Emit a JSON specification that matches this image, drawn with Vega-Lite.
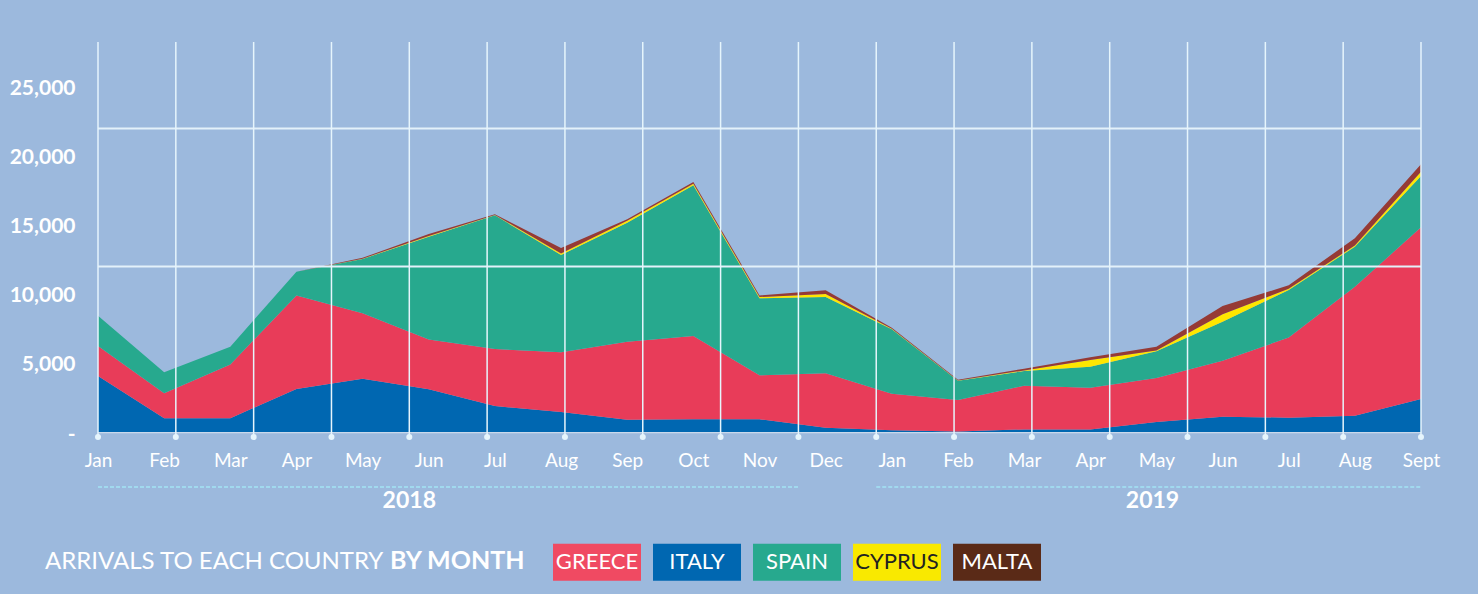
{
  "$schema": "https://vega.github.io/schema/vega-lite/v6.json",
  "width": 1323,
  "height": 390,
  "autosize": {"type": "none"},
  "padding": {"left": 98, "top": 42, "right": 57, "bottom": 162},
  "background": "#9cb9dd",
  "config": {"view": {"stroke": null}, "font": "Lato"},
  "title": {
    "text": "ARRIVALS TO EACH COUNTRY",
    "orient": "bottom", "anchor": "start", "frame": "group",
    "dx": -53, "offset": -31,
    "fontSize": 24, "fontWeight": "normal", "color": "#ffffff", "font": "Lato"
  },
  "datasets": {
    "arrivals": [
      {"month": "Jan 2018", "country": "Italy", "value": 4060}, {"month": "Jan 2018", "country": "Greece", "value": 2170}, {"month": "Jan 2018", "country": "Spain", "value": 2200}, {"month": "Jan 2018", "country": "Cyprus", "value": 0}, {"month": "Jan 2018", "country": "Malta", "value": 0},
      {"month": "Feb 2018", "country": "Italy", "value": 990}, {"month": "Feb 2018", "country": "Greece", "value": 1810}, {"month": "Feb 2018", "country": "Spain", "value": 1530}, {"month": "Feb 2018", "country": "Cyprus", "value": 0}, {"month": "Feb 2018", "country": "Malta", "value": 0},
      {"month": "Mar 2018", "country": "Italy", "value": 1000}, {"month": "Mar 2018", "country": "Greece", "value": 3900}, {"month": "Mar 2018", "country": "Spain", "value": 1280}, {"month": "Mar 2018", "country": "Cyprus", "value": 0}, {"month": "Mar 2018", "country": "Malta", "value": 0},
      {"month": "Apr 2018", "country": "Italy", "value": 3120}, {"month": "Apr 2018", "country": "Greece", "value": 6780}, {"month": "Apr 2018", "country": "Spain", "value": 1720}, {"month": "Apr 2018", "country": "Cyprus", "value": 0}, {"month": "Apr 2018", "country": "Malta", "value": 0},
      {"month": "May 2018", "country": "Italy", "value": 3860}, {"month": "May 2018", "country": "Greece", "value": 4740}, {"month": "May 2018", "country": "Spain", "value": 3940}, {"month": "May 2018", "country": "Cyprus", "value": 20}, {"month": "May 2018", "country": "Malta", "value": 60},
      {"month": "Jun 2018", "country": "Italy", "value": 3090}, {"month": "Jun 2018", "country": "Greece", "value": 3620}, {"month": "Jun 2018", "country": "Spain", "value": 7440}, {"month": "Jun 2018", "country": "Cyprus", "value": 60}, {"month": "Jun 2018", "country": "Malta", "value": 140},
      {"month": "Jul 2018", "country": "Italy", "value": 1880}, {"month": "Jul 2018", "country": "Greece", "value": 4130}, {"month": "Jul 2018", "country": "Spain", "value": 9690}, {"month": "Jul 2018", "country": "Cyprus", "value": 30}, {"month": "Jul 2018", "country": "Malta", "value": 50},
      {"month": "Aug 2018", "country": "Italy", "value": 1450}, {"month": "Aug 2018", "country": "Greece", "value": 4320}, {"month": "Aug 2018", "country": "Spain", "value": 7060}, {"month": "Aug 2018", "country": "Cyprus", "value": 100}, {"month": "Aug 2018", "country": "Malta", "value": 400},
      {"month": "Sep 2018", "country": "Italy", "value": 890}, {"month": "Sep 2018", "country": "Greece", "value": 5650}, {"month": "Sep 2018", "country": "Spain", "value": 8630}, {"month": "Sep 2018", "country": "Cyprus", "value": 130}, {"month": "Sep 2018", "country": "Malta", "value": 110},
      {"month": "Oct 2018", "country": "Italy", "value": 920}, {"month": "Oct 2018", "country": "Greece", "value": 6040}, {"month": "Oct 2018", "country": "Spain", "value": 10920}, {"month": "Oct 2018", "country": "Cyprus", "value": 100}, {"month": "Oct 2018", "country": "Malta", "value": 140},
      {"month": "Nov 2018", "country": "Italy", "value": 920}, {"month": "Nov 2018", "country": "Greece", "value": 3190}, {"month": "Nov 2018", "country": "Spain", "value": 5580}, {"month": "Nov 2018", "country": "Cyprus", "value": 90}, {"month": "Nov 2018", "country": "Malta", "value": 120},
      {"month": "Dec 2018", "country": "Italy", "value": 310}, {"month": "Dec 2018", "country": "Greece", "value": 3940}, {"month": "Dec 2018", "country": "Spain", "value": 5530}, {"month": "Dec 2018", "country": "Cyprus", "value": 220}, {"month": "Dec 2018", "country": "Malta", "value": 270},
      {"month": "Jan 2019", "country": "Italy", "value": 120}, {"month": "Jan 2019", "country": "Greece", "value": 2660}, {"month": "Jan 2019", "country": "Spain", "value": 4660}, {"month": "Jan 2019", "country": "Cyprus", "value": 40}, {"month": "Jan 2019", "country": "Malta", "value": 80},
      {"month": "Feb 2019", "country": "Italy", "value": 30}, {"month": "Feb 2019", "country": "Greece", "value": 2290}, {"month": "Feb 2019", "country": "Spain", "value": 1400}, {"month": "Feb 2019", "country": "Cyprus", "value": 20}, {"month": "Feb 2019", "country": "Malta", "value": 40},
      {"month": "Mar 2019", "country": "Italy", "value": 190}, {"month": "Mar 2019", "country": "Greece", "value": 3170}, {"month": "Mar 2019", "country": "Spain", "value": 1060}, {"month": "Mar 2019", "country": "Cyprus", "value": 40}, {"month": "Mar 2019", "country": "Malta", "value": 130},
      {"month": "Apr 2019", "country": "Italy", "value": 190}, {"month": "Apr 2019", "country": "Greece", "value": 3020}, {"month": "Apr 2019", "country": "Spain", "value": 1520}, {"month": "Apr 2019", "country": "Cyprus", "value": 490}, {"month": "Apr 2019", "country": "Malta", "value": 190},
      {"month": "May 2019", "country": "Italy", "value": 720}, {"month": "May 2019", "country": "Greece", "value": 3190}, {"month": "May 2019", "country": "Spain", "value": 1940}, {"month": "May 2019", "country": "Cyprus", "value": 60}, {"month": "May 2019", "country": "Malta", "value": 270},
      {"month": "Jun 2019", "country": "Italy", "value": 1110}, {"month": "Jun 2019", "country": "Greece", "value": 4060}, {"month": "Jun 2019", "country": "Spain", "value": 2820}, {"month": "Jun 2019", "country": "Cyprus", "value": 540}, {"month": "Jun 2019", "country": "Malta", "value": 600},
      {"month": "Jul 2019", "country": "Italy", "value": 1040}, {"month": "Jul 2019", "country": "Greece", "value": 5800}, {"month": "Jul 2019", "country": "Spain", "value": 3450}, {"month": "Jul 2019", "country": "Cyprus", "value": 90}, {"month": "Jul 2019", "country": "Malta", "value": 250},
      {"month": "Aug 2019", "country": "Italy", "value": 1180}, {"month": "Aug 2019", "country": "Greece", "value": 9350}, {"month": "Aug 2019", "country": "Spain", "value": 2900}, {"month": "Aug 2019", "country": "Cyprus", "value": 80}, {"month": "Aug 2019", "country": "Malta", "value": 530},
      {"month": "Sept 2019", "country": "Italy", "value": 2390}, {"month": "Sept 2019", "country": "Greece", "value": 12440}, {"month": "Sept 2019", "country": "Spain", "value": 3720}, {"month": "Sept 2019", "country": "Cyprus", "value": 310}, {"month": "Sept 2019", "country": "Malta", "value": 540}
    ],
    "grid": [{"g": 0}, {"g": 1}, {"g": 2}, {"g": 3}, {"g": 4}, {"g": 5}, {"g": 6}, {"g": 7}, {"g": 8}, {"g": 9}, {"g": 10}, {"g": 11}, {"g": 12}, {"g": 13}, {"g": 14}, {"g": 15}, {"g": 16}, {"g": 17}],
    "years": [{"year": "2018", "from": 0, "to": 9, "mid": 4}, {"year": "2019", "from": 10, "to": 17, "mid": 13.55}],
    "hlines": [{"h": 12000}, {"h": 22000}]
  },
  "layer": [
    {
      "data": {"name": "arrivals"},
      "transform": [
        {"calculate": "indexof(['Italy', 'Greece', 'Spain', 'Cyprus', 'Malta'], datum.country)", "as": "stack_rank"}
      ],
      "mark": {"type": "area", "opacity": 1},
      "encoding": {
        "x": {
          "field": "month", "type": "ordinal", "sort": null,
          "scale": {"type": "point", "padding": 0},
          "axis": {
            "labelExpr": "split(datum.value, ' ')[0]", "labelAngle": 0, "labelOverlap": false,
            "labelFontSize": 19, "labelColor": "#ffffff", "labelFont": "Lato", "labelPadding": 19,
            "ticks": false, "domain": true, "domainColor": "#c9d9ec", "domainWidth": 1.5,
            "grid": false, "title": null
          }
        },
        "y": {
          "field": "value", "type": "quantitative", "stack": "zero",
          "scale": {"domain": [0, 28260], "nice": false, "zero": true},
          "axis": {
            "values": [0, 5000, 10000, 15000, 20000, 25000],
            "labelExpr": "datum.value == 0 ? '-' : format(datum.value, ',')",
            "labelFontSize": 21, "labelFontWeight": "bold", "labelColor": "#ffffff", "labelFont": "Lato",
            "labelPadding": 23, "labelOffset": 2, "ticks": false, "domain": false, "grid": false, "title": null
          }
        },
        "order": {"field": "stack_rank", "type": "quantitative", "sort": "ascending"},
        "color": {
          "field": "country", "type": "nominal",
          "scale": {
            "domain": ["Italy", "Greece", "Spain", "Cyprus", "Malta"],
            "range": ["#0067b1", "#e83c59", "#27a98e", "#ffe600", "#963a35"]
          },
          "legend": null
        }
      }
    },
    {
      "data": {"name": "arrivals"},
      "mark": {"type": "point", "filled": true, "opacity": 0, "size": 0},
      "encoding": {
        "fill": {
          "field": "country", "type": "nominal",
          "scale": {
            "domain": ["Greece", "Italy", "Spain", "Cyprus", "Malta"],
            "range": ["#f04a62", "#0067b1", "#27a98e", "#f9e900", "#5a2a17"]
          },
          "legend": {
            "orient": "none", "legendX": 292, "legendY": 476, "direction": "horizontal",
            "title": "BY MONTH", "titleOrient": "left", "titleFontSize": 25, "titleFontWeight": "bold",
            "titleColor": "#ffffff", "titleFont": "Lato", "titlePadding": 27, "titleBaseline": "top",
            "symbolType": "M-1,-0.42H1V0.42H-1Z", "symbolSize": 7744, "symbolStrokeWidth": 0, "symbolOpacity": 1,
            "labelAlign": "center", "labelOffset": -44, "labelFontSize": 22, "labelFont": "Lato",
            "labelColor": "#ffffff", "labelExpr": "upper(datum.label)", "columnPadding": 12, "padding": 0,
            "encode": {
              "labels": {"update": {"fill": {"signal": "datum.value == 'Cyprus' ? '#222222' : '#ffffff'"}}}
            }
          }
        }
      }
    },
    {
      "data": {"name": "hlines"},
      "mark": {"type": "rule", "color": "#e3f1fa", "strokeWidth": 2},
      "encoding": {
        "y": {"field": "h", "type": "quantitative", "scale": {"domain": [0, 28260], "nice": false}}
      }
    },
    {
      "data": {"name": "grid"},
      "mark": {"type": "rule", "color": "#e6f5fc", "strokeWidth": 1.5, "yOffset": 5},
      "encoding": {
        "x": {"field": "g", "type": "quantitative", "scale": {"domain": [0, 17], "nice": false, "zero": false}, "axis": null},
        "y": {"datum": 0, "type": "quantitative"},
        "y2": {"datum": 28260}
      }
    },
    {
      "data": {"name": "grid"},
      "mark": {"type": "point", "filled": true, "color": "#e6f5fc", "opacity": 1, "size": 36, "yOffset": 5},
      "encoding": {
        "x": {"field": "g", "type": "quantitative", "scale": {"domain": [0, 17], "nice": false, "zero": false}, "axis": null},
        "y": {"datum": 0, "type": "quantitative"}
      }
    },
    {
      "data": {"name": "years"},
      "mark": {"type": "rule", "color": "#a2e4f4", "strokeWidth": 1.5, "strokeDash": [4, 2], "yOffset": 55},
      "encoding": {
        "x": {"field": "from", "type": "quantitative", "scale": {"domain": [0, 17], "nice": false, "zero": false}, "axis": null},
        "x2": {"field": "to"},
        "y": {"datum": 0, "type": "quantitative"}
      }
    },
    {
      "data": {"name": "years"},
      "mark": {"type": "text", "color": "#ffffff", "fontSize": 23, "fontWeight": "bold", "font": "Lato", "yOffset": 69, "baseline": "middle"},
      "encoding": {
        "x": {"field": "mid", "type": "quantitative", "scale": {"domain": [0, 17], "nice": false, "zero": false}, "axis": null},
        "y": {"datum": 0, "type": "quantitative"},
        "text": {"field": "year"}
      }
    }
  ],
  "resolve": {"scale": {"x": "independent"}}
}
